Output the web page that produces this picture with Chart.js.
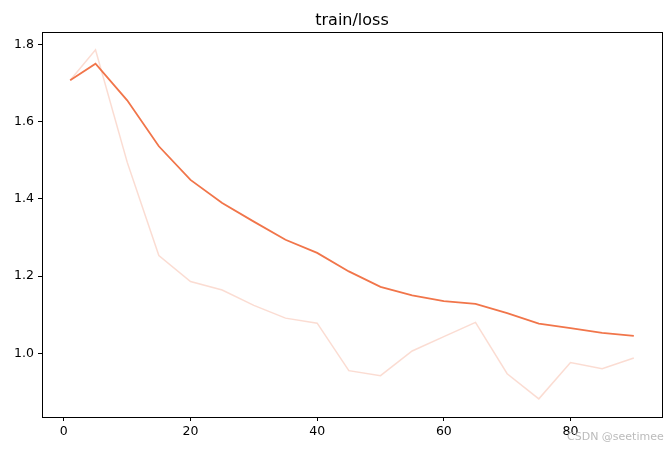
<!DOCTYPE html>
<html>
<head>
<meta charset="utf-8">
<script src="https://cdn.jsdelivr.net/npm/chart.js@4"></script>
<style>
    html, body { margin: 0; padding: 0; background: #fff; }
    #wrap { position: relative; width: 671px; height: 451px; }
    #mark {
        position: absolute; left: 567px; top: 430px; white-space: nowrap;
        font-family: "DejaVu Sans", sans-serif; font-size: 11px;
        color: rgba(175, 175, 175, 0.85);
    }
</style>
</head>
<body>
<div id="wrap">
    <canvas id="lossChart" width="671" height="451"></canvas>
    <div id="mark">CSDN @seetimee</div>
</div>
<script>
// steps, smoothed loss and raw loss
var steps = [1, 5, 10, 15, 20, 25, 30, 35, 40, 45, 50, 55, 60, 65, 70, 75, 80, 85, 90];
var smoothLoss = [1.707, 1.750, 1.655, 1.536, 1.449, 1.389, 1.341, 1.294, 1.260, 1.212, 1.172, 1.150, 1.135, 1.128, 1.104, 1.077, 1.065, 1.053, 1.045];
var rawLoss = [1.707, 1.786, 1.495, 1.253, 1.186, 1.164, 1.124, 1.091, 1.078, 0.955, 0.942, 1.006, 1.043, 1.080, 0.947, 0.882, 0.976, 0.960, 0.988];
var xTicks = [0, 20, 40, 60, 80];
var yTicks = [1.0, 1.2, 1.4, 1.6, 1.8];

function toPoints(ys) {
    return steps.map(function(s, i) { return { x: s, y: ys[i] }; });
}

var frame = {
    id: 'frame',
    afterDraw: function(chart) {
        var a = chart.chartArea, ctx = chart.ctx;
        ctx.save();
        ctx.strokeStyle = '#000';
        ctx.lineWidth = 1;
        ctx.strokeRect(Math.round(a.left) + 0.5, Math.round(a.top) + 0.5,
            Math.round(a.right - a.left), Math.round(a.bottom - a.top));
        ctx.fillStyle = '#000';
        ctx.font = '16px "DejaVu Sans"';
        ctx.textAlign = 'center';
        ctx.textBaseline = 'alphabetic';
        ctx.fillText('train/loss', (a.left + a.right) / 2, 25);
        ctx.restore();
    }
};

var ctx = document.getElementById('lossChart').getContext('2d');
var chart = new Chart(ctx, {
    type: 'line',
    data: {
        datasets: [{
            label: 'raw',
            data: toPoints(rawLoss),
            borderColor: 'rgba(241, 117, 74, 0.25)',
            borderWidth: 1.5,
            pointRadius: 0,
            tension: 0,
        }, {
            label: 'smoothed',
            data: toPoints(smoothLoss),
            borderColor: '#f1754a',
            borderWidth: 1.8,
            pointRadius: 0,
            tension: 0,
        }],
    },
    options: {
        responsive: false,
        animation: false,
        layout: { padding: { left: 0, right: 9, top: 32, bottom: 0 } },
        plugins: {
            legend: { display: false },
            tooltip: { enabled: false },
        },
        scales: {
            x: {
                type: 'linear',
                min: -3.45,
                max: 94.45,
                afterBuildTicks: function(axis) {
                    axis.ticks = xTicks.map(function(v) { return { value: v }; });
                },
                afterFit: function(axis) { axis.height = 34; },
                grid: { drawOnChartArea: false, drawTicks: true, tickLength: 4, color: '#000' },
                border: { display: true, color: '#000' },
                ticks: {
                    color: '#000',
                    padding: 3,
                    maxRotation: 0,
                    font: { family: 'DejaVu Sans', size: 12.5 },
                },
            },
            y: {
                min: 0.835,
                max: 1.832,
                afterBuildTicks: function(axis) {
                    axis.ticks = yTicks.map(function(v) { return { value: v }; });
                },
                afterFit: function(axis) { axis.width = 42; },
                grid: { drawOnChartArea: false, drawTicks: true, tickLength: 4, color: '#000' },
                border: { display: true, color: '#000' },
                ticks: {
                    color: '#000',
                    padding: 4,
                    font: { family: 'DejaVu Sans', size: 12.5 },
                    callback: function(v) { return v.toFixed(1); },
                },
            },
        },
    },
    plugins: [frame],
});
</script>
</body>
</html>
